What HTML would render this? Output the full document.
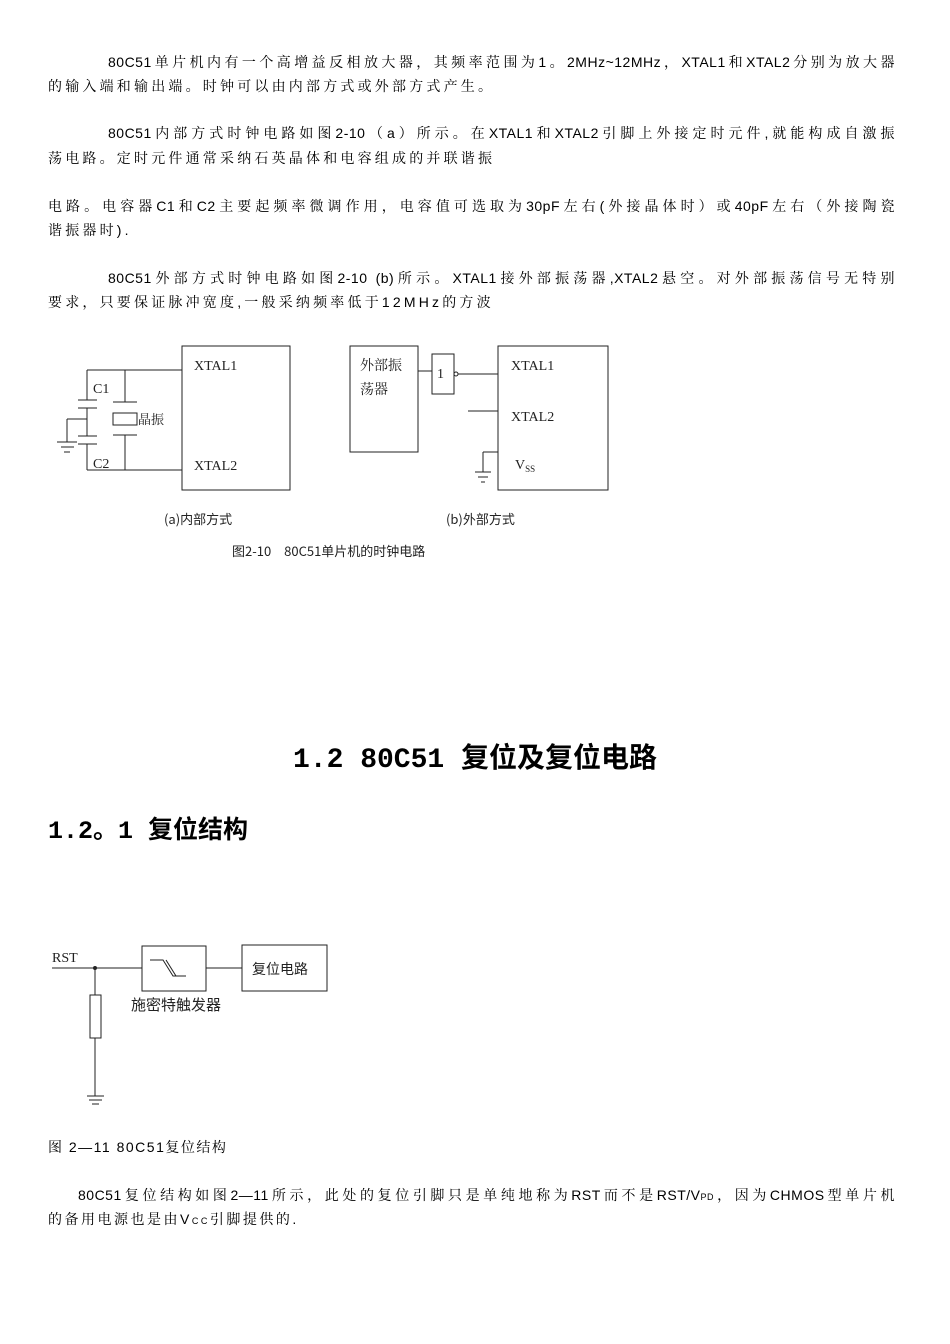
<!DOCTYPE html>
<html><head><meta charset="utf-8">
<style>
body{margin:0;background:#fff;width:950px;height:1344px;position:relative;overflow:hidden;font-family:"Liberation Sans","Noto Serif CJK SC",serif;color:#000}
.l{position:absolute;left:48px;width:847px;font-size:14px;letter-spacing:3.2px;white-space:nowrap;line-height:20px}
.j{text-align:justify;text-align-last:justify;white-space:normal;letter-spacing:0.5px;height:20px;overflow:hidden}
.h{position:absolute;font-family:"Liberation Mono","Noto Sans CJK SC",monospace;font-weight:bold}
svg{position:absolute;left:0;top:0}
</style></head><body>
<div class="l j" style="top:52px"><span style="padding-left:60px"></span>80C51单片机内有一个高增益反相放大器，其频率范围为1。2MHz~12MHz，XTAL1和XTAL2分别为放大器</div>
<div class="l" style="top:76px">的输入端和输出端。时钟可以由内部方式或外部方式产生。</div>
<div class="l j" style="top:123px"><span style="padding-left:60px"></span>80C51内部方式时钟电路如图2-10（a）所示。在XTAL1和XTAL2引脚上外接定时元件,就能构成自激振</div>
<div class="l" style="top:148px">荡电路。定时元件通常采纳石英晶体和电容组成的并联谐振</div>
<div class="l j" style="top:196px">电路。电容器C1和C2主要起频率微调作用，电容值可选取为30pF左右(外接晶体时）或40pF左右（外接陶瓷</div>
<div class="l" style="top:220px">谐振器时).</div>
<div class="l j" style="top:268px"><span style="padding-left:60px"></span>80C51外部方式时钟电路如图2-10 (b)所示。XTAL1接外部振荡器,XTAL2悬空。对外部振荡信号无特别</div>
<div class="l" style="top:292px">要求，只要保证脉冲宽度,一般采纳频率低于12MHz的方波</div>

<svg width="950" height="1344" font-family="Liberation Serif,Noto Serif CJK SC,serif" font-size="14" stroke="#222" fill="none">
<rect x="182" y="346" width="108" height="144"/>
<line x1="87" y1="370" x2="182" y2="370"/>
<line x1="87" y1="470" x2="182" y2="470"/>
<line x1="87" y1="370" x2="87" y2="400"/>
<line x1="78" y1="400" x2="97" y2="400"/><line x1="78" y1="408" x2="97" y2="408"/>
<line x1="87" y1="408" x2="87" y2="436"/>
<line x1="67" y1="419" x2="87" y2="419"/>
<line x1="67" y1="419" x2="67" y2="442"/>
<line x1="57" y1="442" x2="77" y2="442"/><line x1="61" y1="447" x2="74" y2="447"/><line x1="64" y1="452" x2="70" y2="452"/>
<line x1="78" y1="436" x2="97" y2="436"/><line x1="78" y1="444" x2="97" y2="444"/>
<line x1="87" y1="444" x2="87" y2="470"/>
<line x1="125" y1="370" x2="125" y2="402"/>
<line x1="113" y1="402" x2="137" y2="402"/>
<rect x="113" y="413" width="24" height="12"/>
<line x1="113" y1="435" x2="137" y2="435"/>
<line x1="125" y1="435" x2="125" y2="470"/>
<g fill="#222" stroke="none">
<text x="93" y="393">C1</text><text x="93" y="468">C2</text>
<text x="138" y="424" font-size="13">晶振</text>
<text x="194" y="370">XTAL1</text><text x="194" y="470">XTAL2</text>
<text x="164" y="524" font-size="13" font-family="Noto Sans CJK SC,sans-serif">(a)内部方式</text>
<text x="446" y="524" font-size="13" font-family="Noto Sans CJK SC,sans-serif">(b)外部方式</text>
<text x="232" y="556" font-size="13" font-family="Noto Sans CJK SC,sans-serif">图2-10　80C51单片机的时钟电路</text>
</g>
<rect x="350" y="346" width="68" height="106"/>
<line x1="418" y1="371" x2="432" y2="371"/>
<rect x="432" y="354" width="22" height="40"/>
<circle cx="456" cy="374" r="2"/>
<line x1="458" y1="374" x2="498" y2="374"/>
<rect x="498" y="346" width="110" height="144"/>
<line x1="468" y1="411" x2="498" y2="411"/>
<line x1="483" y1="452" x2="498" y2="452"/>
<line x1="483" y1="452" x2="483" y2="472"/>
<line x1="475" y1="472" x2="491" y2="472"/><line x1="478" y1="477" x2="488" y2="477"/><line x1="481" y1="482" x2="485" y2="482"/>
<g fill="#222" stroke="none">
<text x="360" y="370">外部振</text><text x="360" y="394">荡器</text>
<text x="437" y="378">1</text>
<text x="511" y="370">XTAL1</text><text x="511" y="421">XTAL2</text>
<text x="515" y="469">V<tspan font-size="9" dy="3">SS</tspan></text>
</g>
<line x1="52" y1="968" x2="142" y2="968"/>
<circle cx="95" cy="968" r="1.5" fill="#222"/>
<rect x="142" y="946" width="64" height="45"/>
<polyline points="150,960 163,960 173,976 186,976"/>
<line x1="166" y1="960" x2="176" y2="976"/>
<line x1="206" y1="968" x2="242" y2="968"/>
<rect x="242" y="945" width="85" height="46"/>
<line x1="95" y1="968" x2="95" y2="995"/>
<rect x="90" y="995" width="11" height="43"/>
<line x1="95" y1="1038" x2="95" y2="1096"/>
<line x1="87" y1="1096" x2="104" y2="1096"/><line x1="89" y1="1100" x2="102" y2="1100"/><line x1="92" y1="1104" x2="99" y2="1104"/>
<g fill="#222" stroke="none">
<text x="52" y="962">RST</text>
<text x="252" y="974" font-family="Noto Sans CJK SC,sans-serif" font-size="14">复位电路</text>
<text x="131" y="1010" font-family="Noto Sans CJK SC,sans-serif" font-size="15">施密特触发器</text>
</g>
</svg>

<div class="h" style="top:736px;left:0;width:950px;text-align:center;font-size:28px">1.2 80C51 复位及复位电路</div>
<div class="h" style="top:810px;left:48px;font-size:25px">1.2。1 复位结构</div>
<div class="l" style="top:1137px;letter-spacing:1.5px">图 2—11 80C51复位结构</div>
<div class="l j" style="top:1185px"><span style="padding-left:30px"></span>80C51复位结构如图2—11所示，此处的复位引脚只是单纯地称为RST而不是RST/V<span style="font-size:9px">PD</span>，因为CHMOS型单片机</div>
<div class="l" style="top:1209px;letter-spacing:2.5px">的备用电源也是由V<span style="font-size:9px">CC</span>引脚提供的.</div>
</body></html>
